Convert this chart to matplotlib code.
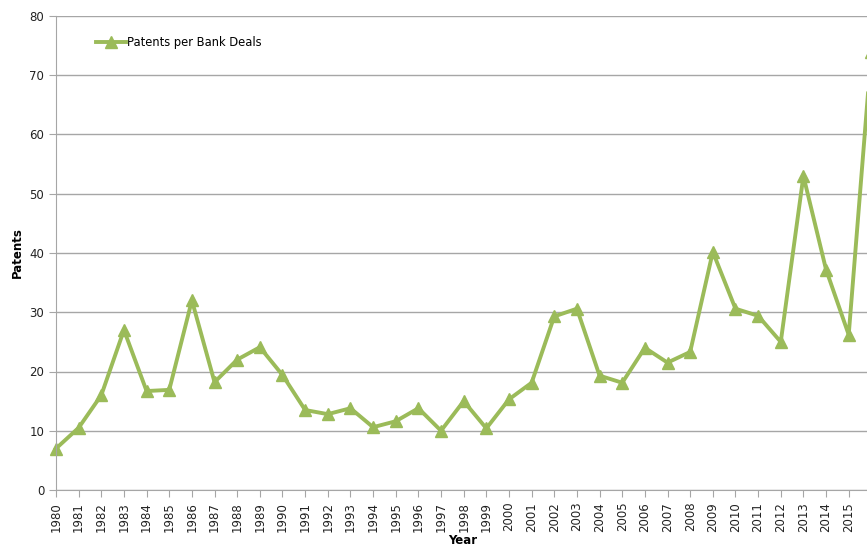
import matplotlib.pyplot as plt
import numpy as np

years = list(range(1980, 2017))
patents = [7, 10.5, 16, 27, 16.7, 16.9, 32, 18.2, 22, 24.1,
           19.4, 13.5, 12.8, 13.8, 10.6, 11.6, 13.8, 10, 15, 10.4,
           15.3, 18.1, 29.3, 30.6, 19.3, 18.1, 24, 21.5, 23.3, 40.2,
           30.6, 29.4, 25, 53, 37.2, 26.2, 74]
yticks = [0, 10, 20, 30, 40, 50, 60, 70, 80]
# last year falls outside the cropped picture, so its label is not shown
xlabels = [str(y) for y in years[:-1]] + [""]

green = "#9BBB59"
grid = "#A6A6A6"

fig = plt.figure(figsize=(8.67, 5.47), dpi=100)
# axes runs past the right edge, like the cropped original
ax = fig.add_axes([56 / 867, 1 - 490 / 547, 838 / 867, 474 / 547])
ax.plot(years, patents, color=green, lw=2.8, marker="^", ms=8,
        label="Patents per Bank Deals", clip_on=False)

ax.set_xlim(1980, 2017)
ax.set_ylim(0, 80)
ax.set_yticks(yticks)
ax.set_xticks(years)
ax.set_xticklabels(xlabels, rotation=90, fontsize=8.5, color="#222222")
ax.tick_params(axis="y", labelsize=8.5, labelcolor="#222222", length=5, color=grid)
ax.tick_params(axis="x", length=5, color=grid)
ax.yaxis.grid(True, color=grid, lw=1)
ax.set_axisbelow(True)
for s in ["top", "right"]:
    ax.spines[s].set_visible(False)
for s in ["left", "bottom"]:
    ax.spines[s].set_color(grid)

ax.set_ylabel("Patents", fontweight="bold", fontsize=8.5)
fig.text(463 / 867, 1 - 541 / 547, "Year", ha="center", va="center",
         fontweight="bold", fontsize=8.5)
ax.legend(loc="upper left", bbox_to_anchor=(0.035, 0.98), frameon=False,
          fontsize=8.3, handlelength=2.6, handletextpad=0.1)

fig.savefig("out.png", dpi=100)
